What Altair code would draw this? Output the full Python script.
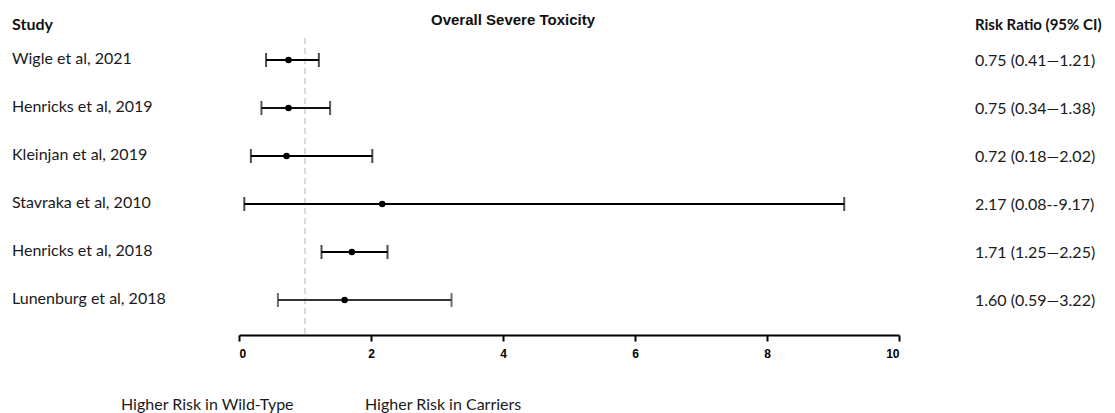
import altair as alt
import pandas as pd

studies = ["Wigle et al, 2021", "Henricks et al, 2019", "Kleinjan et al, 2019",
           "Stavraka et al, 2010", "Henricks et al, 2018", "Lunenburg et al, 2018"]
rr = [0.75, 0.75, 0.72, 2.17, 1.71, 1.60]
lo = [0.41, 0.34, 0.18, 0.08, 1.25, 0.59]
hi = [1.21, 1.38, 2.02, 9.17, 2.25, 3.22]
ci_text = ["0.75 (0.41\u20141.21)", "0.75 (0.34\u20141.38)", "0.72 (0.18\u20142.02)",
           "2.17 (0.08--9.17)", "1.71 (1.25\u20142.25)", "1.60 (0.59\u20143.22)"]
line_colors = ["#000000", "#111111", "#000000", "#000000", "#000000", "#333333"]
x_ticks = [0, 2, 4, 6, 8, 10]

df = pd.DataFrame({"study": studies, "rr": rr, "lo": lo, "hi": hi,
                   "ci": ci_text, "col": line_colors})
caps = pd.concat([
    pd.DataFrame({"study": studies, "v": lo, "col": line_colors}),
    pd.DataFrame({"study": studies, "v": hi, "col": line_colors}),
])

xscale = alt.Scale(domain=[0, 10], range=[231, 891], nice=False, zero=False)
xaxis = alt.Axis(values=x_ticks, grid=False, title=None, domainColor="black",
                 domainWidth=2, tickColor="black", tickWidth=2, tickSize=6,
                 labelFont="Liberation Sans", labelFontWeight="bold",
                 labelFontSize=12, labelColor="black", labelPadding=7)
yenc = alt.Y("study:N", sort=studies, axis=None,
             scale=alt.Scale(type="point", range=[52, 292], padding=0))

base = alt.Chart(df)

ref = alt.Chart(pd.DataFrame({"x": [1]})).mark_rule(
    color="#b8b8b8", strokeDash=[6, 4], strokeWidth=1
).encode(x=alt.X("x:Q", scale=xscale, axis=xaxis), y=alt.value(30), y2=alt.value(327))

lines = base.mark_rule(strokeWidth=2).encode(
    x=alt.X("lo:Q", scale=xscale, axis=xaxis), x2="hi:Q", y=yenc,
    color=alt.Color("col:N", scale=None))

cap = alt.Chart(caps).mark_tick(orient="vertical", size=14, thickness=2).encode(
    x=alt.X("v:Q", scale=xscale, axis=xaxis), y=yenc,
    color=alt.Color("col:N", scale=None))

pts = base.mark_circle(size=42, opacity=1, color="black").encode(
    x=alt.X("rr:Q", scale=xscale, axis=xaxis), y=yenc)

names = base.mark_text(align="left", baseline="middle", font="Lato", fontSize=16,
                       color="#1a1a1a", dy=-1).encode(
    x=alt.value(4), y=yenc, text="study:N")

cis = base.mark_text(align="left", baseline="middle", font="Lato", fontSize=16,
                     color="#1a1a1a", dy=1).encode(
    x=alt.value(967), y=yenc, text="ci:N")

hdr = pd.DataFrame({"t": ["Study"]})
study_hdr = alt.Chart(hdr).mark_text(align="left", baseline="middle", font="Lato",
                                     fontSize=16, fontWeight="bold", color="#111111").encode(
    x=alt.value(4), y=alt.value(17), text="t:N")
rr_hdr = alt.Chart(pd.DataFrame({"t": ["Risk Ratio (95% CI)"]})).mark_text(
    align="left", baseline="middle", font="Lato", fontSize=15, fontWeight="bold",
    color="#111111").encode(x=alt.value(967), y=alt.value(17), text="t:N")
title = alt.Chart(pd.DataFrame({"t": ["Overall Severe Toxicity"]})).mark_text(
    align="center", baseline="middle", font="Liberation Sans", fontSize=15,
    fontWeight="bold", color="#111111").encode(x=alt.value(505), y=alt.value(12), text="t:N")
bottom = alt.Chart(pd.DataFrame({"t": ["Higher Risk in Wild-Type", "Higher Risk in Carriers"],
                                 "px": [113, 357]})).mark_text(
    align="left", baseline="middle", font="Lato", fontSize=16, color="#1a1a1a").encode(
    x=alt.X("px:Q", scale=None), y=alt.value(397), text="t:N")

chart = alt.layer(ref, lines, cap, pts, names, cis, study_hdr, rr_hdr, title, bottom).properties(
    width=1099, height=327, autosize=alt.AutoSizeParams(type="none"),
    padding={"left": 0, "right": 0, "top": 0, "bottom": 80}
).configure_view(stroke=None)

chart.save("out.html", embed_options={"renderer": "svg", "actions": False})
